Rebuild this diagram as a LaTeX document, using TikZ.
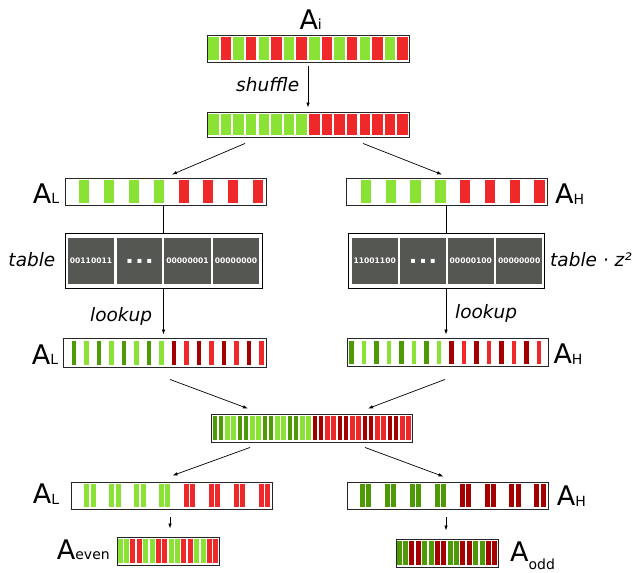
\documentclass[tikz,border=0pt]{standalone}
\usepackage{fontspec}
\setmainfont{DejaVu Sans}
\usetikzlibrary{arrows.meta,calc}
\definecolor{lg}{HTML}{8AE234}
\definecolor{dg}{HTML}{4E9A06}
\definecolor{lr}{HTML}{EF2929}
\definecolor{dr}{HTML}{A40000}
\definecolor{tg}{HTML}{555753}
\newcommand\Alab[2]{{\fontsize{27}{27}\selectfont A}\raisebox{#2}{\fontsize{14}{14}\selectfont #1}}
\tikzset{
  bar/.style={draw=black!85, line width=0.9pt, fill=white, inner sep=0pt, rectangle},
  tablebox/.style={draw=black, line width=0.8pt, fill=white, inner sep=0pt, rectangle},
  arr/.style={draw=black, line width=0.7pt, -{Latex[length=5pt,width=3.5pt]}},
  plainline/.style={draw=black, line width=0.7pt},
  lbl/.style={inner sep=0pt, anchor=base west},
  itlbl/.style={lbl, font=\fontsize{18.5}{18.5}\selectfont\itshape},
  tcell/.style={fill=tg, draw=none, inner sep=0pt, text=white, minimum height=46.6pt, font=\fontsize{7.6}{7.6}\selectfont\bfseries},
}
\begin{document}
\begin{tikzpicture}[x=1pt,y=-1pt]
\useasboundingbox (0,0) rectangle (638,573);

% ---------- A_i ----------
\node[bar, minimum width=202pt, minimum height=27pt] (ai) at (308,48.5) {};
\foreach \k in {0,...,15}{\ifodd\k\def\c{lr}\else\def\c{lg}\fi
  \fill[\c] ({207+12.625*\k+1.1},36.8) rectangle ({207+12.625*(\k+1)-1.1},60.4);}
\node[lbl] (lai) at (299.3,29.3) {\Alab{i}{0pt}};

% ---------- shuffled ----------
\node[bar, minimum width=202pt, minimum height=25pt] (sh) at (308,124.5) {};
\foreach \k in {0,...,15}{\ifnum\k<8 \def\c{lg}\else\def\c{lr}\fi
  \fill[\c] ({207+12.625*\k+1.1},113.8) rectangle ({207+12.625*(\k+1)-1.1},135.3);}
\node[itlbl] (tshuf) at (236,91.7) {shuffle};

% ---------- A_L / A_H ----------
\node[bar, minimum width=201pt, minimum height=27pt] (al) at (165.5,191.5) {};
\foreach \k in {0,...,7}{\ifnum\k<4 \def\c{lg}\else\def\c{lr}\fi
  \fill[\c] ({79.3+24.8*\k},180) rectangle ({89.3+24.8*\k},203);}
\node[lbl] (lal) at (32.7,203.3) {\Alab{L}{-0.5pt}};

\node[bar, minimum width=201pt, minimum height=27pt] (ah) at (446.5,191.5) {};
\foreach \k in {0,...,7}{\ifnum\k<4 \def\c{lg}\else\def\c{lr}\fi
  \fill[\c] ({360.7+24.8*\k},180) rectangle ({371.2+24.8*\k},203);}
\node[lbl] (lah) at (555,203.3) {\Alab{H}{-1pt}};

% ---------- tables ----------
\node[tablebox, minimum width=197pt, minimum height=55pt] (tl) at (163.5,260.5) {};
\node[tcell, minimum width=46.6pt] (tl1) at (91,261) {00110011};
\node[tcell, minimum width=45.6pt] (tl2) at (139.5,261) {\fontsize{8}{8}\selectfont ▪\hspace{4.5pt}▪\hspace{4.5pt}▪};
\node[tcell, minimum width=46.4pt] (tl3) at (187.5,261) {00000001};
\node[tcell, minimum width=46.6pt] (tl4) at (236,261) {00000000};
\node[itlbl] (ttab) at (8.3,266.7) {table};

\node[tablebox, minimum width=196pt, minimum height=55pt] (tr) at (446,260.5) {};
\node[tcell, minimum width=46pt] (tr1) at (374.7,261) {11001100};
\node[tcell, minimum width=46pt] (tr2) at (423,261) {\fontsize{8}{8}\selectfont ▪\hspace{4.5pt}▪\hspace{4.5pt}▪};
\node[tcell, minimum width=46.3pt] (tr3) at (470.85,261) {00000100};
\node[tcell, minimum width=46.3pt] (tr4) at (519.15,261) {00000000};
\node[itlbl] (ttabz) at (550,266.7) {table · z²};

% ---------- lookup results ----------
\node[bar, minimum width=203pt, minimum height=29pt] (ll) at (164.5,352.5) {};
\foreach \k in {0,...,15}{\ifnum\k<8 \ifodd\k\def\c{lg}\else\def\c{dg}\fi\else\ifodd\k\def\c{lr}\else\def\c{dr}\fi\fi
  \fill[\c] ({71.7+12.5*\k},340.5) rectangle ({76.4+12.5*\k},365);}
\node[lbl] (lll) at (31.7,364) {\Alab{L}{-0.5pt}};
\node[itlbl] (tlk1) at (90,321.7) {lookup};

\node[bar, minimum width=201pt, minimum height=28pt] (lh) at (447.5,352) {};
\foreach \k in {0,...,15}{\ifnum\k<8 \ifodd\k\def\c{lg}\else\def\c{dg}\fi\else\ifodd\k\def\c{lr}\else\def\c{dr}\fi\fi
  \fill[\c] ({349+12.5*\k},340.5) rectangle ({353.5+12.5*\k},364);}
\node[lbl] (llh) at (553.3,363.3) {\Alab{H}{-1pt}};
\node[itlbl] (tlk2) at (455,318.3) {lookup};

% ---------- merged ----------
\node[bar, minimum width=201pt, minimum height=28pt] (mg) at (311.5,428) {};
\foreach \k in {0,...,31}{\pgfmathtruncatemacro\m{mod(\k,4)}
  \ifnum\k<16 \ifnum\m<2 \def\c{dg}\else\def\c{lg}\fi\else\ifnum\m<2 \def\c{dr}\else\def\c{lr}\fi\fi
  \fill[\c] ({212.5+6.25*\k},416) rectangle ({217+6.25*\k},440.3);}

% ---------- bottom A_L / A_H ----------
\node[bar, minimum width=201pt, minimum height=27pt] (bl) at (171.5,495.5) {};
\foreach \k in {0,...,7}{\ifnum\k<4 \def\c{lg}\else\def\c{lr}\fi
  \fill[\c] ({84.3+24.95*\k},484) rectangle ({89.3+24.95*\k},507);
  \fill[\c] ({90.6+24.95*\k},484) rectangle ({95.6+24.95*\k},507);}
\node[lbl] (lbl) at (32.7,503.3) {\Alab{L}{-1.5pt}};

\node[bar, minimum width=201pt, minimum height=27pt] (bh) at (447.5,495.5) {};
\foreach \k in {0,...,7}{\ifnum\k<4 \def\c{dg}\else\def\c{dr}\fi
  \fill[\c] ({360+24.9*\k},484) rectangle ({365+24.9*\k},507);
  \fill[\c] ({366.3+24.9*\k},484) rectangle ({371.3+24.9*\k},507);}
\node[lbl] (lbh) at (556.7,505) {\Alab{H}{-1.5pt}};

% ---------- even / odd ----------
\node[bar, minimum width=102pt, minimum height=28pt] (ev) at (168,551) {};
\foreach \k in {0,...,15}{\pgfmathtruncatemacro\m{mod(\k,4)}
  \ifnum\m<2 \def\c{lg}\else\def\c{lr}\fi
  \fill[\c] ({117+6.375*\k+0.7},539) rectangle ({117+6.375*(\k+1)-0.7},563);}
\node[lbl] (lev) at (56.7,559.3) {\Alab{even}{0pt}};

\node[bar, minimum width=102pt, minimum height=28pt] (od) at (447,553) {};
\foreach \k in {0,...,15}{\pgfmathtruncatemacro\m{mod(\k,4)}
  \ifnum\m<2 \def\c{dg}\else\def\c{dr}\fi
  \fill[\c] ({396+6.375*\k+0.7},541) rectangle ({396+6.375*(\k+1)-0.7},565);}
\node[lbl] (lod) at (510,561.7) {\Alab{odd}{-8pt}};

% ---------- connectors ----------
\draw[arr, shorten <=4pt, shorten >=4pt] (ai.south) -- (sh.north);
\draw[arr] ([xshift=-63pt,yshift=-6pt]sh.south) -- ([xshift=6.5pt,yshift=3pt]al.north);
\draw[arr] ([xshift=55pt,yshift=-6pt]sh.south) -- ([xshift=-4.5pt,yshift=3pt]ah.north);
\draw[plainline] (tl.north |- al.south) -- (tl.north);
\draw[arr, shorten >=3pt] (tl.south) -- (tl.south |- ll.north);
\draw[plainline] (tr.north |- ah.south) -- (tr.north);
\draw[arr, shorten >=3pt] (tr.south) -- (tr.south |- lh.north);
\draw[arr] ([xshift=5.5pt,yshift=-12pt]ll.south) -- ([xshift=-63.5pt,yshift=5pt]mg.north);
\draw[arr] ([xshift=-2.5pt,yshift=-13pt]lh.south) -- ([xshift=56.5pt,yshift=5pt]mg.north);
\draw[arr] ([xshift=-61.5pt,yshift=-5pt]mg.south) -- ([xshift=1pt,yshift=6pt]bl.north);
\draw[arr] ([xshift=53.5pt,yshift=-5pt]mg.south) -- ([xshift=-4pt,yshift=5pt]bh.north);
\draw[arr] ([xshift=-1.5pt,yshift=-8pt]bl.south) -- ([xshift=2pt,yshift=8pt]ev.north);
\draw[arr] ([xshift=-1.5pt,yshift=-8pt]bh.south) -- ([xshift=-1pt,yshift=8pt]od.north);
\end{tikzpicture}
\end{document}
